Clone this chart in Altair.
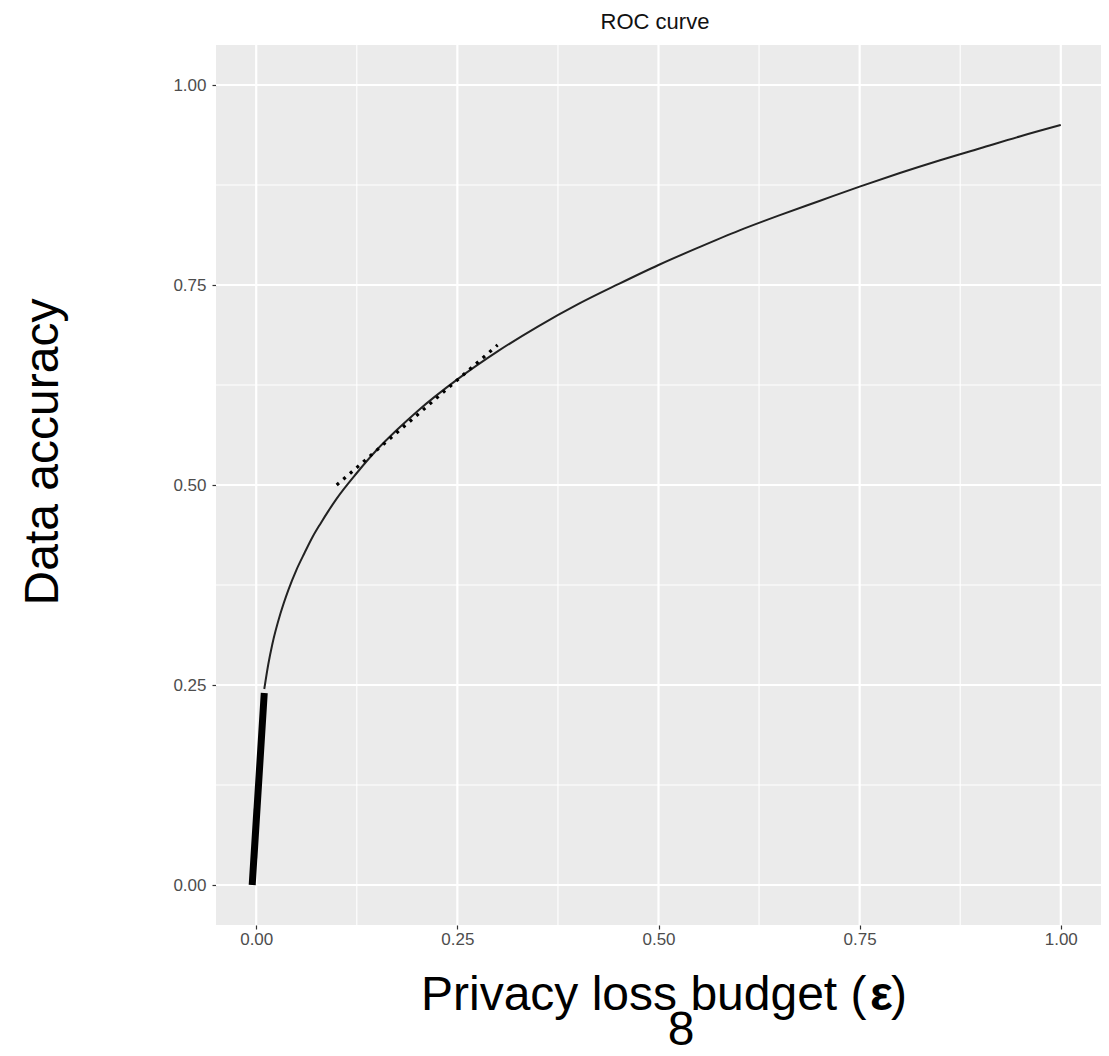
import altair as alt
import pandas as pd

# ---- data ----
curve_x = [0.01, 0.015, 0.02, 0.03, 0.04, 0.05, 0.06, 0.07, 0.08, 0.09, 0.10,
           0.125, 0.15, 0.175, 0.20, 0.25, 0.30, 0.35, 0.40, 0.45, 0.50,
           0.55, 0.60, 0.65, 0.70, 0.75, 0.80, 0.85, 0.90, 0.95, 1.00]
curve_y = [0.245, 0.276, 0.301, 0.339, 0.369, 0.394, 0.415, 0.435, 0.452, 0.468, 0.483,
           0.515, 0.544, 0.569, 0.592, 0.632, 0.667, 0.698, 0.726, 0.751, 0.775,
           0.797, 0.818, 0.837, 0.855, 0.873, 0.890, 0.906, 0.921, 0.936, 0.950]
thick_x = [-0.005, 0.01]
thick_y = [0.0, 0.24]
dot_x = [0.10, 0.30]
dot_y = [0.50, 0.675]
major_ticks = [0.0, 0.25, 0.5, 0.75, 1.0]
minor_ticks = [0.125, 0.375, 0.625, 0.875]
title_text = ["ROC curve"]
x_title_parts = ["Privacy loss budget (", "ε", ")"]
x_sub = ["8"]
y_title = ["Data accuracy"]

FONT = "Liberation Sans"
W, H = 885, 880
DOM = [-0.05, 1.05]

sx = alt.Scale(domain=DOM, nice=False, zero=False)
sy = alt.Scale(domain=DOM, nice=False, zero=False)
ax = alt.Axis(values=major_ticks, format=".2f", title=None, grid=False, domain=False,
              labelPadding=2)
ay = alt.Axis(values=major_ticks, format=".2f", title=None, grid=False, domain=False,
              labelPadding=6)

def X(f):
    return alt.X(f, type="quantitative", scale=sx, axis=ax)

def Y(f):
    return alt.Y(f, type="quantitative", scale=sy, axis=ay)

curve = pd.DataFrame({"x": curve_x, "y": curve_y})
thick = pd.DataFrame({"x": thick_x, "y": thick_y})
dots = pd.DataFrame({"x": dot_x, "y": dot_y})

vmaj = alt.Chart(pd.DataFrame({"v": major_ticks})).mark_rule(color="white", strokeWidth=2.2).encode(x=X("v"))
vmin = alt.Chart(pd.DataFrame({"v": minor_ticks})).mark_rule(color="white", strokeWidth=1.1).encode(x=X("v"))
hmaj = alt.Chart(pd.DataFrame({"v": major_ticks})).mark_rule(color="white", strokeWidth=2.2).encode(y=Y("v"))
hmin = alt.Chart(pd.DataFrame({"v": minor_ticks})).mark_rule(color="white", strokeWidth=1.1).encode(y=Y("v"))

line_main = alt.Chart(curve).mark_line(color="#222222", strokeWidth=2.0, interpolate="monotone").encode(
    x=X("x"), y=Y("y"))
line_thick = alt.Chart(thick).mark_line(color="black", strokeWidth=7, strokeCap="butt").encode(
    x=X("x"), y=Y("y"))
line_dot = alt.Chart(dots).mark_line(color="black", strokeWidth=3.2, strokeDash=[3, 5.8],
                                      strokeCap="butt").encode(x=X("x"), y=Y("y"))

t_title = alt.Chart(pd.DataFrame({"t": title_text})).mark_text(
    font=FONT, fontSize=22, color="#111111", align="center", baseline="alphabetic").encode(
    text="t:N", x=alt.value(439), y=alt.value(-16))

xt_a = alt.Chart(pd.DataFrame({"t": [x_title_parts[0]]})).mark_text(
    font=FONT, fontSize=48, color="black", align="left", baseline="alphabetic").encode(
    text="t:N", x=alt.value(205), y=alt.value(965))
xt_b = alt.Chart(pd.DataFrame({"t": [x_title_parts[1]]})).mark_text(
    font=FONT, fontSize=48, fontWeight="bold", color="black", align="left", baseline="alphabetic").encode(
    text="t:N", x=alt.value(654), y=alt.value(965))
xt_c = alt.Chart(pd.DataFrame({"t": [x_title_parts[2]]})).mark_text(
    font=FONT, fontSize=48, color="black", align="left", baseline="alphabetic").encode(
    text="t:N", x=alt.value(675), y=alt.value(965))
xt_sub = alt.Chart(pd.DataFrame({"t": x_sub})).mark_text(
    font=FONT, fontSize=48, color="black", align="center", baseline="alphabetic").encode(
    text="t:N", x=alt.value(465), y=alt.value(1000))
yt = alt.Chart(pd.DataFrame({"t": y_title})).mark_text(
    font=FONT, fontSize=48, color="black", align="center", baseline="alphabetic", angle=270).encode(
    text="t:N", x=alt.value(-158), y=alt.value(407))

chart = alt.layer(
    vmin, hmin, vmaj, hmaj, line_main, line_dot, line_thick,
    t_title, xt_a, xt_b, xt_c, xt_sub, yt
).properties(
    width=W, height=H,
    autosize=alt.AutoSizeParams(type="none"),
    padding={"left": 208, "top": 37, "right": 0, "bottom": 123},
    background="white",
).configure_view(
    fill="#EBEBEB", strokeWidth=0
).configure_axis(
    labelFont=FONT, labelFontSize=17, labelColor="#4D4D4D",
    tickColor="#333333", tickSize=4, tickWidth=1.2
)

chart.save("out.html", embed_options={"renderer": "svg", "actions": False})
